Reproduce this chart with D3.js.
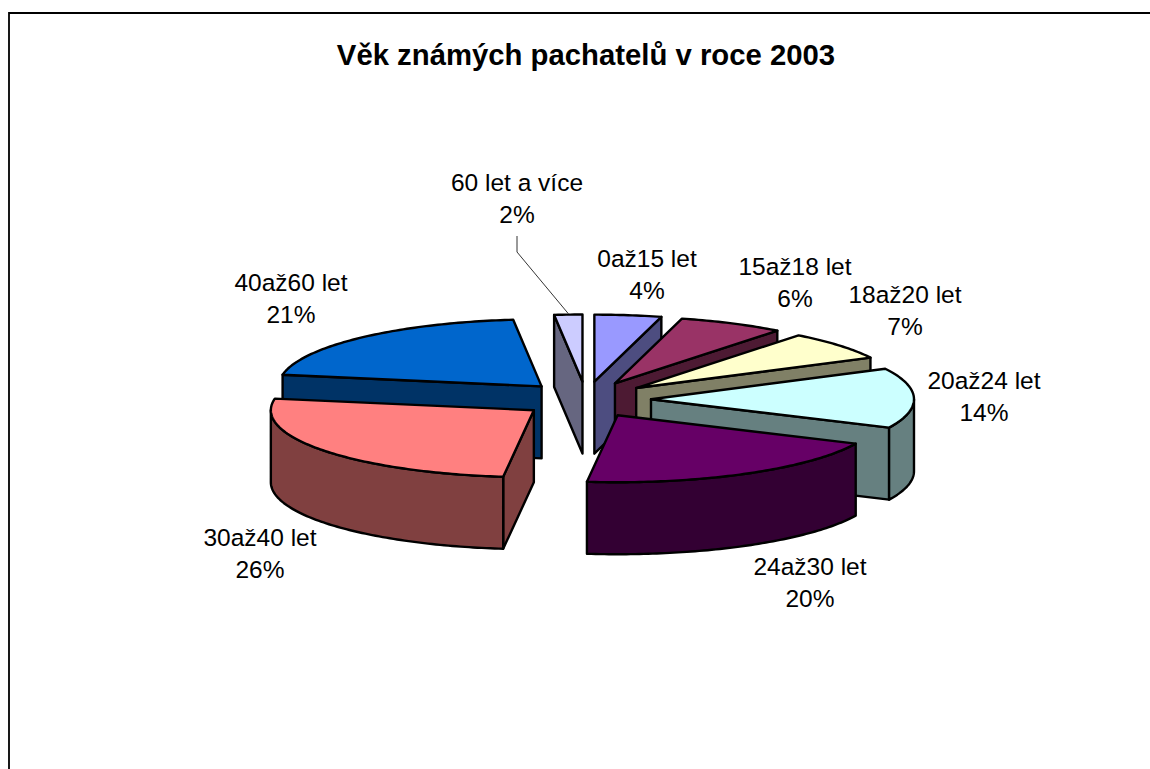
<!DOCTYPE html>
<html><head><meta charset="utf-8">
<style>html,body{margin:0;padding:0;background:#fff}svg{display:block}text{font-family:"Liberation Sans",Arial,sans-serif;fill:#000}</style>
<script src="https://cdn.jsdelivr.net/npm/d3@7/dist/d3.min.js"></script>
</head><body><svg id="c" width="1150" height="769"></svg>
<script>
const title = "Věk známých pachatelů v roce 2003";
const categories = ["0až15 let","15až18 let","18až20 let","20až24 let","24až30 let","30až40 let","40až60 let","60 let a více"];
const shares = [4.1,6.49,6.9,14.49,19.88,25.92,20.5,1.72];
const topColors = ["#9999FF","#993366","#FFFFCC","#CCFFFF","#660066","#FF8080","#0066CC","#CCCCFF"];
const sideColors = ["#4D4D80","#4D1A33","#808066","#668080","#330033","#804040","#003366","#666680"];
const drawOrder = [7,0,1,2,3,6,5,4];
// label centres, page pixels
const labelX = [647,795,905,984,810,260,291,517];
const labelY = [259,267,295,381,567,538,283,183];

const W=1150,H=769,cx=586,cy=399.5,rx=263,ry=67,explodeX=65,explodeY=18,depth=72,lineGap=31.8;
const svg=d3.select("#c");
svg.append("rect").attr("width",W).attr("height",H).attr("fill","#fff");
svg.append("path").attr("d",`M9,${H}V13H${W}`).attr("fill","none").attr("stroke","#000").attr("stroke-width",1.8);
svg.append("text").attr("x",586).attr("y",65).attr("text-anchor","middle").attr("font-size",29.3).attr("font-weight","bold").text(title);

const arcs=d3.pie().sort(null).value(d=>d)(shares);
function pt(a,c,dz=0){return [c[0]+rx*Math.sin(a),c[1]-ry*Math.cos(a)+dz];}
function arcPts(a0,a1,c,dz=0){const n=Math.max(2,Math.ceil((a1-a0)*60));return d3.range(n+1).map(i=>pt(a0+(a1-a0)*i/n,c,dz));}
const line=d3.line();
const g=svg.append("g").attr("stroke","#000").attr("stroke-width",2.4).attr("stroke-linejoin","round");
drawOrder.forEach(i=>{
  const s=arcs[i],mid=(s.startAngle+s.endAngle)/2;
  const c=[cx+explodeX*Math.sin(mid),cy-explodeY*Math.cos(mid)];
  const a0=s.startAngle,a1=s.endAngle,side=sideColors[i];
  const radial=a=>[c,pt(a,c),pt(a,c,depth),[c[0],c[1]+depth]];
  if(Math.sin(a0)<0) g.append("path").attr("fill",side).attr("d",line(radial(a0))+"Z");
  if(Math.sin(a1)>0) g.append("path").attr("fill",side).attr("d",line(radial(a1))+"Z");
  const lo=Math.max(a0,Math.PI/2),hi=Math.min(a1,Math.PI*1.5);
  if(hi>lo){g.append("path").attr("fill",side).attr("d",line(arcPts(lo,hi,c).concat(arcPts(lo,hi,c,depth).reverse()))+"Z");}
  g.append("path").attr("fill",topColors[i]).attr("d",line([c].concat(arcPts(a0,a1,c)))+"Z");
});
// leader line for the smallest slice
{const s=arcs[7],mid=(s.startAngle+s.endAngle)/2;const c=[cx+explodeX*Math.sin(mid),cy-explodeY*Math.cos(mid)];const e=pt(mid,c);
svg.append("path").attr("fill","none").attr("stroke","#000").attr("stroke-width",.8).attr("d",line([[labelX[7],labelY[7]+53],[labelX[7],labelY[7]+69],[e[0],e[1]-1]]));}
const lab=svg.append("g").attr("font-size",24.5).attr("text-anchor","middle");
categories.forEach((n,i)=>{
  lab.append("text").attr("x",labelX[i]).attr("y",labelY[i]-0.5).attr("dy","0.35em").text(n);
  lab.append("text").attr("x",labelX[i]).attr("y",labelY[i]+lineGap-0.5).attr("dy","0.35em").text(Math.round(shares[i])+"%");
});
</script></body></html>
